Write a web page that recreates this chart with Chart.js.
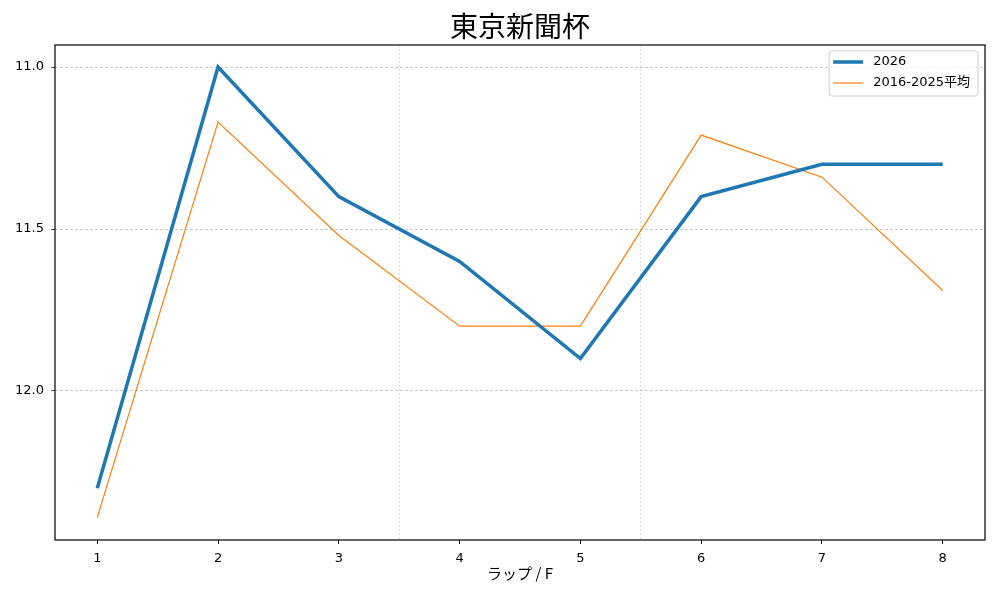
<!DOCTYPE html>
<html>
<head>
<meta charset="utf-8">
<script src="https://cdn.jsdelivr.net/npm/chart.js@4"></script>
<style>
  body { margin:0; background:#fff; }
  canvas { display:block; }
</style>
</head>
<body>
<canvas id="lapChart" width="1000" height="600"></canvas>
<script>
// data
const laps = [1,2,3,4,5,6,7,8];
const lap2026 = [12.30,11.00,11.40,11.60,11.90,11.40,11.30,11.30];
const lapAvg = [12.39,11.17,11.52,11.80,11.80,11.21,11.34,11.69];
const yTicks = [11.0,11.5,12.0];
const splitLines = [3.5,5.5];
const chartTitle = "東京新聞杯";

const FONT = "'DejaVu Sans', 'Noto Sans CJK JP', sans-serif";
const JP = "'Noto Sans CJK JP', sans-serif";

// frame round the plot + title centred over it
const frame = {
  id:"frame",
  afterDatasetsDraw(chart){
    const a = chart.chartArea, c = chart.ctx;
    c.save();
    c.strokeStyle = "#000";
    c.lineWidth = 1.2;
    c.strokeRect(a.left, a.top, a.right-a.left, a.bottom-a.top);
    c.fillStyle = "#000";
    c.font = "28px " + JP;
    c.textAlign = "center";
    c.textBaseline = "middle";
    c.fillText(chartTitle, (a.left+a.right)/2, 26);
    c.restore();
  }
};

// legend inside the upper right corner
const boxLegend = {
  id:"boxLegend",
  afterDraw(chart){
    const c = chart.ctx, a = chart.chartArea;
    const sets = chart.data.datasets;
    c.save();
    c.font = "13px " + FONT;
    let tw = 0;
    sets.forEach(d => tw = Math.max(tw, c.measureText(d.label).width));
    const w = 4+30+10+tw+8, h = 45;
    const x = a.right-7-w, y = a.top+6;
    c.fillStyle = "rgba(255,255,255,0.8)";
    c.strokeStyle = "#d0d0d0";
    c.lineWidth = 1;
    c.beginPath();
    c.roundRect(x, y, w, h, 3);
    c.fill(); c.stroke();
    sets.forEach((d,i) => {
      const ly = y+11+i*21;
      c.strokeStyle = d.borderColor;
      c.lineWidth = d.borderWidth;
      c.beginPath();
      c.moveTo(x+4, ly); c.lineTo(x+34, ly);
      c.stroke();
      c.fillStyle = "#000";
      c.textBaseline = "middle";
      c.fillText(d.label, x+44, ly);
    });
    c.restore();
  }
};

new Chart(document.getElementById("lapChart"), {
  type:"line",
  data:{
    datasets:[
      {
        label:"2026",
        data: laps.map((x,i) => ({x:x, y:lap2026[i]})),
        borderColor:"#1f77b4",
        borderWidth:3.5,
        pointRadius:0,
        tension:0
      },
      {
        label:"2016-2025平均",
        data: laps.map((x,i) => ({x:x, y:lapAvg[i]})),
        borderColor:"#ff7f0e",
        borderWidth:1.2,
        pointRadius:0,
        tension:0
      }
    ]
  },
  options:{
    responsive:false,
    animation:false,
    layout:{ padding:{ left:0, right:15, top:45, bottom:0 } },
    plugins:{
      legend:{ display:false },
      tooltip:{ enabled:false },
      title:{ display:false }
    },
    scales:{
      x:{
        type:"linear",
        min:0.65, max:8.35,
        afterBuildTicks: s => { s.ticks = laps.map(v => ({value:v})); },
        afterFit: s => { s.height = 60; },
        grid:{ drawOnChartArea:false, tickColor:"#000", tickLength:4 },
        border:{ display:false },
        ticks:{ color:"#000", font:{ family:FONT, size:13 }, padding:7 },
        title:{ display:true, text:"ラップ / F", color:"#000", font:{ family:JP, size:15 }, padding:{ top:0, bottom:18 } }
      },
      x2:{
        type:"linear",
        position:"bottom",
        min:0.65, max:8.35,
        display:true,
        afterBuildTicks: s => { s.ticks = splitLines.map(v => ({value:v})); },
        afterFit: s => { s.height = 0; },
        grid:{ color:"#cccccc", lineWidth:0.7, drawTicks:false },
        border:{ display:false, dash:[2,2] },
        ticks:{ display:false }
      },
      y:{
        reverse:true,
        min:10.932, max:12.46,
        afterBuildTicks: s => { s.ticks = yTicks.map(v => ({value:v})); },
        afterFit: s => { s.width = 55; },
        grid:{ color:"#b0b0b0", lineWidth:0.7, tickColor:"#000", tickLength:4, tickBorderDash:[] },
        border:{ display:false, dash:[3,2] },
        ticks:{ color:"#000", font:{ family:FONT, size:13 }, padding:7, callback: v => v.toFixed(1) }
      }
    }
  },
  plugins:[frame, boxLegend]
});
</script>
</body>
</html>
